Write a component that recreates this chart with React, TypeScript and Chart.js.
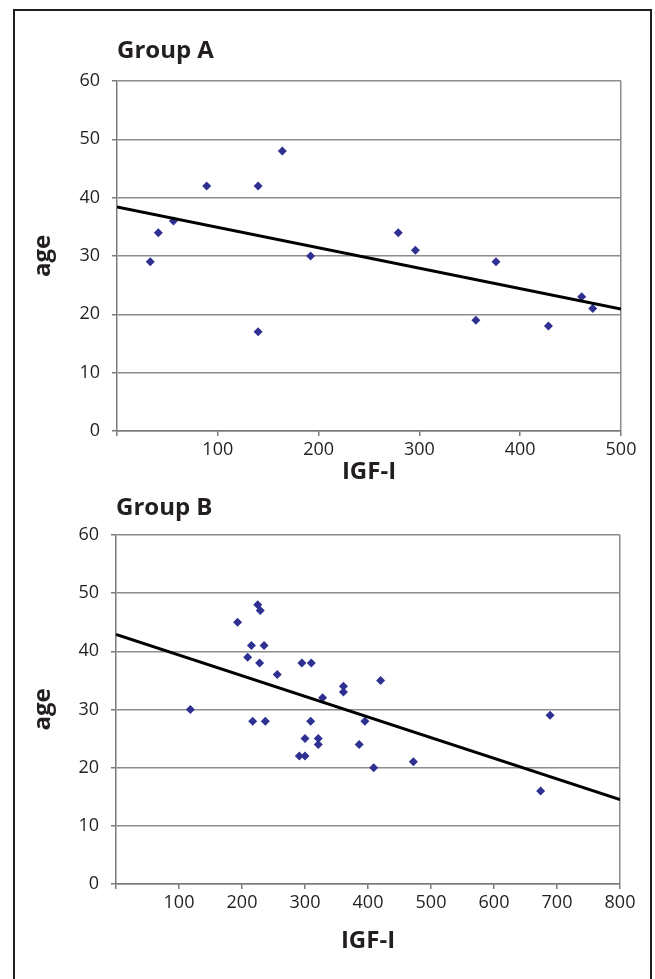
import React, { useEffect, useRef } from "react";
import { Chart, registerables } from "chart.js";

Chart.register(...registerables);

// ---- Data ----
const yTickValues = [0, 10, 20, 30, 40, 50, 60];

const groupAXTicks = [0, 100, 200, 300, 400, 500];
const groupAIgf = [33, 41, 56, 89, 140, 164, 140, 192, 279, 296, 356, 376, 428, 461, 472];
const groupAAge = [29, 34, 36, 42, 42, 48, 17, 30, 34, 31, 19, 29, 18, 23, 21];
const groupATrendIgf = [0, 500];
const groupATrendAge = [38.4, 20.9];

const groupBXTicks = [0, 100, 200, 300, 400, 500, 600, 700, 800];
const groupBIgf = [118, 193, 209, 215, 217, 225, 228, 229, 235, 237, 256, 291, 295, 300, 300, 309, 310, 321, 321, 328, 361, 361, 386, 395, 409, 420, 472, 674, 689];
const groupBAge = [30, 45, 39, 41, 28, 48, 38, 47, 41, 28, 36, 22, 38, 25, 22, 28, 38, 25, 24, 32, 34, 33, 24, 28, 20, 35, 21, 16, 29];
const groupBTrendIgf = [0, 800];
const groupBTrendAge = [42.9, 14.5];

const TEXT = "#231f20";
const GRID = "#8c8c8c";
const AXIS = "#7a7a7a";
const MARKER = "#2e3192";
const FAMILY = "'Open Sans', 'Noto Sans', sans-serif";
const BOLD_SIZE = 24;

type PanelProps = {
  top: number;
  height: number;
  title: string;
  xTicks: number[];
  igf: number[];
  age: number[];
  trendIgf: number[];
  trendAge: number[];
  titlePadTop: number;
  titlePadBottom: number;
  yAxisWidth: number;
  xAxisHeight: number;
  padRight: number;
  xTitlePadBottom: number;
};

function Panel(p: PanelProps) {
  const ref = useRef<HTMLCanvasElement>(null);
  useEffect(() => {
    if (!ref.current) return;
    const xMax = p.xTicks[p.xTicks.length - 1];
    const points = p.igf.map((x, i) => ({ x, y: p.age[i] }));
    const trend = p.trendIgf.map((x, i) => ({ x, y: p.trendAge[i] }));
    const chart = new Chart(ref.current, {
      type: "scatter",
      data: {
        datasets: [
          {
            type: "line",
            data: trend,
            borderColor: "#000",
            borderWidth: 3,
            pointRadius: 0,
            fill: false,
            order: 0,
          } as any,
          {
            data: points,
            pointStyle: "rectRot",
            pointRadius: 4.5,
            backgroundColor: MARKER,
            borderColor: MARKER,
            borderWidth: 0,
            order: 1,
          },
        ],
      },
      options: {
        responsive: false,
        animation: false,
        layout: { padding: { left: 0, right: p.padRight, top: 0, bottom: 0 } },
        plugins: {
          legend: { display: false },
          tooltip: { enabled: false },
          title: {
            display: true,
            text: p.title,
            align: "start",
            fullSize: false,
            color: TEXT,
            font: { family: FAMILY, size: BOLD_SIZE, weight: "bold", lineHeight: 1.2 },
            padding: { top: p.titlePadTop, bottom: p.titlePadBottom },
          },
        },
        scales: {
          x: {
            type: "linear",
            min: 0,
            max: xMax,
            afterBuildTicks: (scale: any) => {
              scale.ticks = p.xTicks.map((value) => ({ value }));
            },
            afterFit: (scale: any) => {
              scale.height = p.xAxisHeight;
            },
            ticks: {
              color: TEXT,
              font: { family: FAMILY, size: 18, lineHeight: 1.2 },
              padding: 3,
              maxRotation: 0,
              autoSkip: false,
              callback: (v: any) => (Number(v) === 0 ? "" : String(v)),
            },
            grid: {
              color: (ctx: any) => (ctx.tick && ctx.tick.value === xMax ? GRID : "rgba(0,0,0,0)"),
              tickColor: AXIS,
              tickLength: 5,
              lineWidth: 1.5,
            },
            border: { display: true, color: AXIS, width: 1.5 },
            title: {
              display: true,
              text: "IGF-I",
              color: TEXT,
              font: { family: FAMILY, size: BOLD_SIZE, weight: "bold", lineHeight: 1.2 },
              padding: { top: 0, bottom: p.xTitlePadBottom },
            },
          },
          y: {
            type: "linear",
            min: 0,
            max: 60,
            afterBuildTicks: (scale: any) => {
              scale.ticks = yTickValues.map((value) => ({ value }));
            },
            afterFit: (scale: any) => {
              scale.width = p.yAxisWidth;
            },
            ticks: {
              color: TEXT,
              font: { family: FAMILY, size: 18, lineHeight: 1.2 },
              padding: 12,
            },
            grid: {
              color: GRID,
              tickColor: AXIS,
              tickLength: 5,
              lineWidth: 1.5,
            },
            border: { display: true, color: AXIS, width: 1.5 },
            title: {
              display: true,
              text: "age",
              color: TEXT,
              font: { family: FAMILY, size: BOLD_SIZE, weight: "bold", lineHeight: 1.2 },
              padding: { top: 28.6, bottom: 0 },
            },
          },
        },
      } as any,
    });
    return () => chart.destroy();
  }, []);
  return (
    <canvas
      ref={ref}
      width={655}
      height={p.height}
      style={{ position: "absolute", left: 0, top: p.top, width: 655, height: p.height }}
    />
  );
}

export default function App() {
  return (
    <div
      style={{
        position: "absolute",
        left: 0,
        top: 0,
        width: 655,
        height: 979,
        overflow: "hidden",
        background: "#fff",
      }}
    >
      <Panel
        top={0}
        height={490}
        title="Group A"
        xTicks={groupAXTicks}
        igf={groupAIgf}
        age={groupAAge}
        trendIgf={groupATrendIgf}
        trendAge={groupATrendAge}
        titlePadTop={36.6}
        titlePadBottom={15.6}
        yAxisWidth={117}
        xAxisHeight={59}
        padRight={34}
        xTitlePadBottom={3.6}
      />
      <Panel
        top={490}
        height={489}
        title="Group B"
        xTicks={groupBXTicks}
        igf={groupBIgf}
        age={groupBAge}
        trendIgf={groupBTrendIgf}
        trendAge={groupBTrendAge}
        titlePadTop={3.6}
        titlePadBottom={12.6}
        yAxisWidth={116}
        xAxisHeight={95}
        padRight={35}
        xTitlePadBottom={23.6}
      />
      <div
        style={{
          position: "absolute",
          left: 13,
          top: 9,
          width: 639,
          height: 1000,
          boxSizing: "border-box",
          borderLeft: "2.5px solid #231f20",
          borderTop: "2.5px solid #231f20",
          borderRight: "2.5px solid #231f20",
          pointerEvents: "none",
        }}
      />
    </div>
  );
}
